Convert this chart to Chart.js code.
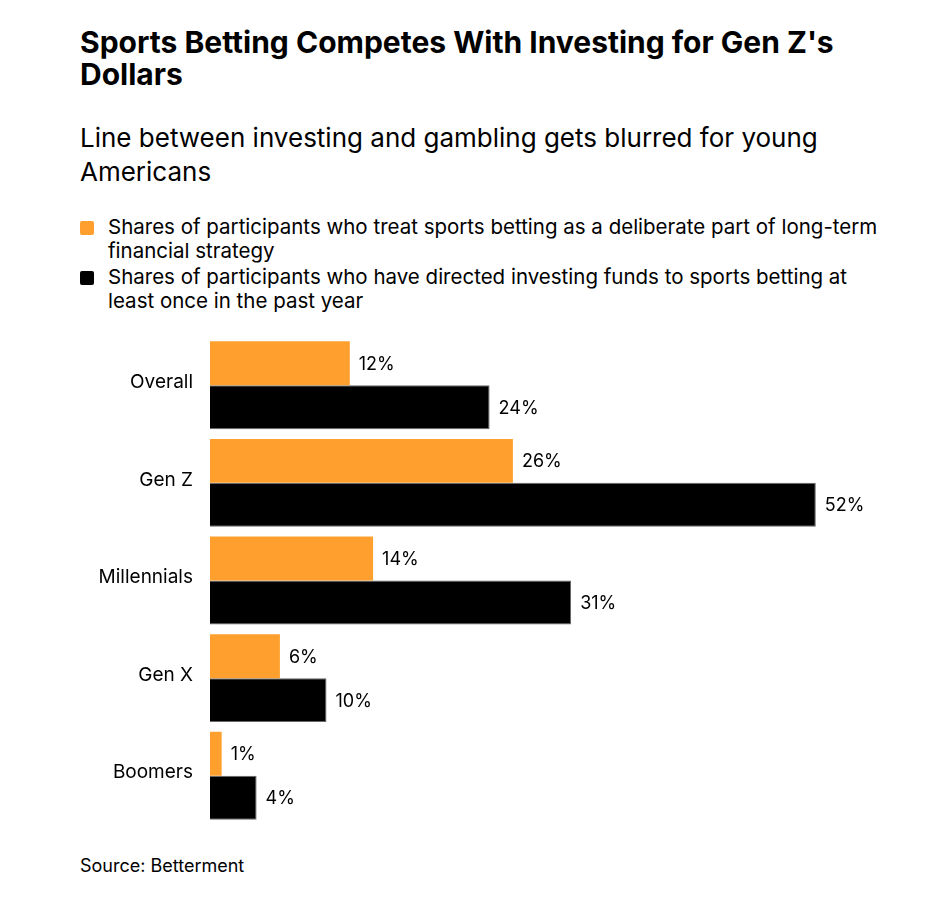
<!DOCTYPE html>
<html>
<head>
<meta charset="utf-8">
<script src="https://cdn.jsdelivr.net/npm/chart.js@4"></script>
<style>
  body { margin: 0; background: #fff; font-family: Inter, "Liberation Sans", Arial, sans-serif; color: #000; }
  #page { position: relative; width: 930px; height: 898px; }
  .title { position: absolute; left: 80px; top: 26px; font-size: 30px; font-weight: bold; line-height: 32px; }
  .subtitle { position: absolute; left: 80px; top: 121px; font-size: 26px; line-height: 34px; }
  .legend { position: absolute; left: 80px; top: 215px; font-size: 20.5px; line-height: 23.5px; }
  .legend .item { position: relative; padding-left: 28px; margin-bottom: 3px; }
  .legend .sw { position: absolute; left: 0; top: 6px; width: 14px; height: 14px; border-radius: 2px; }
  .source { position: absolute; left: 80px; top: 855px; font-size: 18px; }
  #wrap { position: absolute; left: 0; top: 308px; width: 930px; height: 545px; }
</style>
</head>
<body>
<div id="page">
  <div class="title">Sports Betting Competes With Investing for Gen Z's<br>Dollars</div>
  <div class="subtitle">Line between investing and gambling gets blurred for young<br>Americans</div>
  <div class="legend" id="legend"></div>
  <div id="wrap"><canvas id="chart"></canvas></div>
  <div class="source">Source: Betterment</div>
</div>
<script>
// data
const categories = ["Overall", "Gen Z", "Millennials", "Gen X", "Boomers"];
const strategyShare = [12, 26, 14, 6, 1];
const fundsShare = [24, 52, 31, 10, 4];
const seriesNames = [
  "Shares of participants who treat sports betting as a deliberate part of long-term<br>financial strategy",
  "Shares of participants who have directed investing funds to sports betting at<br>least once in the past year"
];
const seriesColors = ["#ffa02e", "#000000"];
const fontFamily = 'Inter, "Liberation Sans", Arial, sans-serif';

// html legend
document.getElementById("legend").innerHTML = seriesNames.map((n, i) =>
  '<div class="item"><span class="sw" style="background:' + seriesColors[i] + '"></span>' + n + '</div>'
).join("");

// value labels at the end of each bar
const valueLabels = {
  id: "valueLabels",
  afterDatasetsDraw(chart) {
    const ctx = chart.ctx;
    ctx.save();
    ctx.font = "18px " + fontFamily;
    ctx.fillStyle = "#000";
    ctx.textBaseline = "middle";
    chart.data.datasets.forEach((ds, i) => {
      chart.getDatasetMeta(i).data.forEach((bar, j) => {
        ctx.fillText(ds.data[j] + "%", bar.x + 9, bar.y + 1);
      });
    });
    ctx.restore();
  }
};

new Chart(document.getElementById("chart"), {
  type: "bar",
  data: {
    labels: categories,
    datasets: [
      {
        data: strategyShare,
        backgroundColor: seriesColors[0],
        borderWidth: 0,
        categoryPercentage: 0.9,
        barPercentage: 1
      },
      {
        data: fundsShare,
        backgroundColor: seriesColors[1],
        borderColor: "#666",
        borderWidth: 1,
        categoryPercentage: 0.9,
        barPercentage: 1
      }
    ]
  },
  options: {
    indexAxis: "y",
    responsive: true,
    maintainAspectRatio: false,
    animation: false,
    layout: { padding: { top: 6, bottom: 4, right: 21, left: 0 } },
    plugins: {
      legend: { display: false },
      tooltip: { enabled: false }
    },
    scales: {
      x: {
        display: false,
        min: 0,
        max: 60
      },
      y: {
        grid: { display: false, drawTicks: false },
        border: { display: false },
        ticks: {
          color: "#000",
          padding: 17,
          labelOffset: -3,
          font: { family: fontFamily, size: 19 }
        },
        afterFit(scale) { scale.width = 210; }
      }
    }
  },
  plugins: [valueLabels]
});
</script>
</body>
</html>
